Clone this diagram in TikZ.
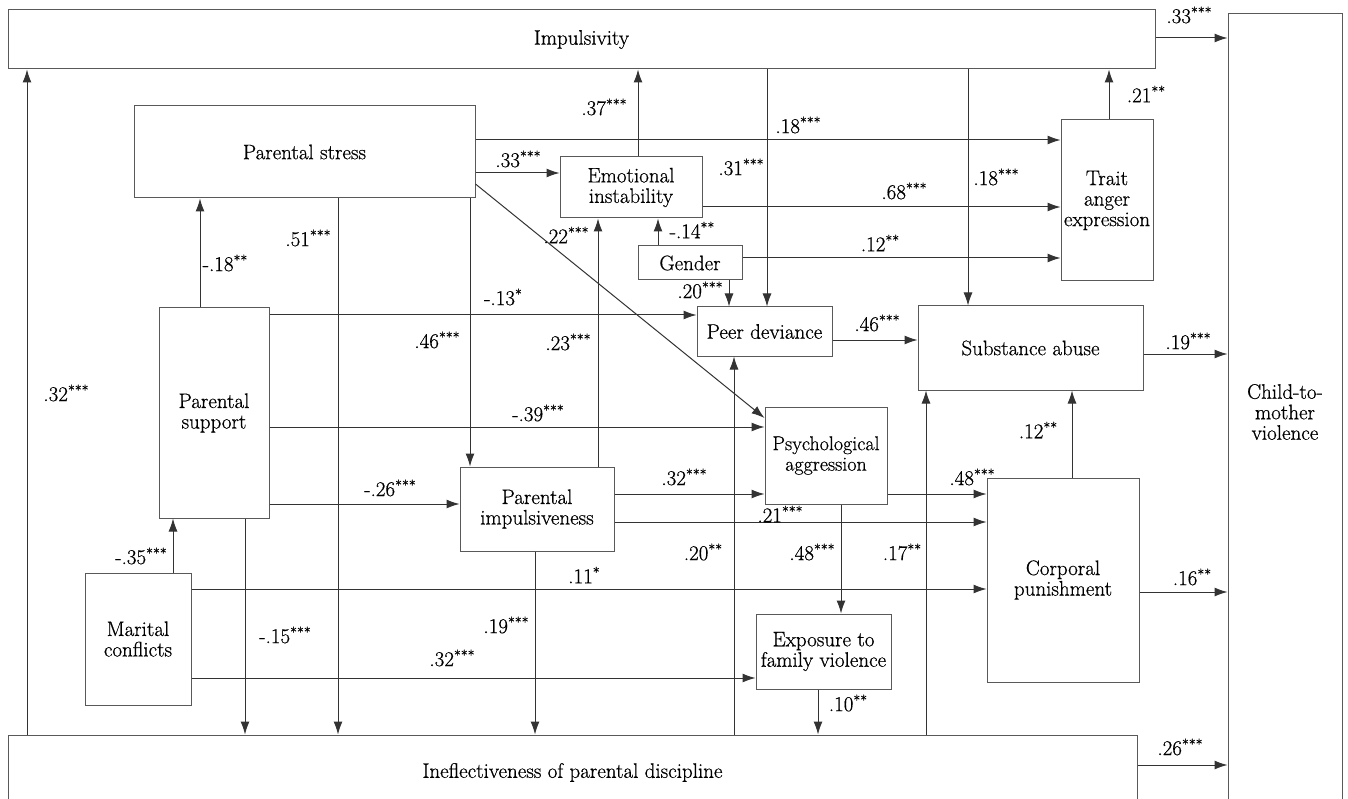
\documentclass[tikz,border=0pt]{standalone}
\usepackage{fontspec}
\setmainfont{Latin Modern Roman}[FakeBold=0.6]
\usetikzlibrary{arrows.meta}
\newcommand\stars[1]{\raisebox{6pt}{\fontsize{14}{14}\selectfont #1}}
\begin{document}
\begin{tikzpicture}[x=1pt,y=-1pt,
  box/.style={draw=black!65, line width=1pt, rectangle, inner sep=0pt, align=center,
    font=\fontsize{21}{20.5}\selectfont},
  arr/.style={draw=black!80, line width=1pt, -{Latex[length=13pt,width=9pt]}},
  lab/.style={font=\fontsize{21}{20}\selectfont, inner sep=0pt}]
\clip (0,0) rectangle (1348,799);
\fill[white] (0,0) rectangle (1348,799);
% boxes
\node[box, minimum width=1147pt, minimum height=59pt] (imp) at (581.5,39.5) {Impulsivity};
\node[box, minimum width=114pt, minimum height=796pt] (child) at (1285,412) {Child-to-\\mother\\violence};
\node[box, minimum width=1129pt, minimum height=75pt] (ineff) at (572.5,772.5) {Ineflectiveness of parental discipline};
\node[box, minimum width=341pt, minimum height=92pt] (stress) at (304.5,152) {Parental stress};
\node[box, minimum width=142pt, minimum height=61pt] (emo) at (631,187.5) {Emotional\\instability};
\node[box, minimum width=104pt, minimum height=34pt] (gen) at (690,263) {Gender};
\node[box, minimum width=92pt, minimum height=161pt] (trait) at (1107,200.5) {Trait\\anger\\expression};
\node[box, minimum width=135pt, minimum height=49pt] (peer) at (764.5,331.5) {Peer deviance};
\node[box, minimum width=225pt, minimum height=84pt] (subst) at (1030.5,348) {Substance abuse};
\node[box, minimum width=110pt, minimum height=210pt] (sup) at (214,413) {Parental\\support};
\node[box, minimum width=122pt, minimum height=97pt, font=\fontsize{20}{20.5}\selectfont] (pa) at (826,455.5) {Psychological\\aggression};
\node[box, minimum width=154pt, minimum height=84pt] (pi) at (537,509) {Parental\\impulsiveness};
\node[box, minimum width=152pt, minimum height=204pt] (corp) at (1063,580) {Corporal\\punishment};
\node[box, minimum width=106pt, minimum height=132pt] (mar) at (138,639) {Marital\\conflicts};
\node[box, minimum width=135pt, minimum height=75pt] (expo) at (823.5,651.5) {Exposure to\\family violence};
% connectors
\draw[arr] (imp.east |- 0,38) -- (child.west |- 0,38);
\draw[arr] (ineff.north -| 27,0) -- (imp.south -| 27,0);
\draw[arr] (stress.south -| 338,0) -- (ineff.north -| 338,0);
\draw[arr] (sup.north -| 200,0) -- (stress.south -| 200,0);
\draw[arr] (mar.north -| 173,0) -- (sup.south -| 173,0);
\draw[arr] (sup.south -| 245,0) -- (ineff.north -| 245,0);
\draw[arr] (mar.east |- 0,589) -- (corp.west |- 0,589);
\draw[arr] (mar.east |- 0,678) -- (expo.west |- 0,678);
\draw[arr] (sup.east |- 0,315) -- (peer.west |- 0,315);
\draw[arr] (sup.east |- 0,427) -- (pa.west |- 0,427);
\draw[arr] (sup.east |- 0,504) -- (pi.west |- 0,504);
\draw[arr] (stress.south -| 470,0) -- (pi.north -| 470,0);
\draw[arr] (stress.east |- 0,173) -- (emo.west |- 0,173);
\draw[arr] (stress.east |- 0,140) -- (trait.west |- 0,140);
\draw[arr] (stress.east |- 0,184) -- (pa.west |- 0,418);
\draw[arr] (emo.north -| 638,0) -- (imp.south -| 638,0);
\draw[arr] (emo.east |- 0,207) -- (trait.west |- 0,207);
\draw[arr] (gen.north -| 658,0) -- (emo.south -| 658,0);
\draw[arr] (gen.east |- 0,258) -- (trait.west |- 0,258);
\draw[arr] (gen.south -| 729,0) -- (peer.north -| 729,0);
\draw[arr] (imp.south -| 767,0) -- (peer.north -| 767,0);
\draw[arr] (imp.south -| 968,0) -- (subst.north -| 968,0);
\draw[arr] (trait.north -| 1109,0) -- (imp.south -| 1109,0);
\draw[arr] (pi.north -| 598,0) -- (emo.south -| 598,0);
\draw[arr] (peer.east |- 0,340) -- (subst.west |- 0,340);
\draw[arr] (subst.east |- 0,354) -- (child.west |- 0,354);
\draw[arr] (ineff.north -| 734,0) -- (peer.south -| 734,0);
\draw[arr] (ineff.north -| 926,0) -- (subst.south -| 926,0);
\draw[arr] (corp.north -| 1072,0) -- (subst.south -| 1072,0);
\draw[arr] (pi.east |- 0,494) -- (pa.west |- 0,494);
\draw[arr] (pi.east |- 0,522) -- (corp.west |- 0,522);
\draw[arr] (pa.east |- 0,494) -- (corp.west |- 0,494);
\draw[arr] (pa.south -| 841,0) -- (expo.north -| 841,0);
\draw[arr] (pi.south -| 535,0) -- (ineff.north -| 535,0);
\draw[arr] (expo.south -| 818,0) -- (ineff.north -| 818,0);
\draw[arr] (corp.east |- 0,592) -- (child.west |- 0,592);
\draw[arr] (ineff.east |- 0,765) -- (child.west |- 0,765);
% labels
\node[lab] (l1) at (1189,15) {.33\stars{***}};
\node[lab] (l2) at (66,393) {.32\stars{***}};
\node[lab] (l3) at (308,238) {.51\stars{***}};
\node[lab] (l4) at (225,263) {-.18\stars{**}};
\node[lab] (l5) at (141,556) {-.35\stars{***}};
\node[lab] (l6) at (285,635) {-.15\stars{***}};
\node[lab] (l7) at (584,575) {.11\stars{*}};
\node[lab] (l8) at (452,658) {.32\stars{***}};
\node[lab] (l9) at (503,297) {-.13\stars{*}};
\node[lab] (l10) at (538,413) {-.39\stars{***}};
\node[lab] (l11) at (390,488) {-.26\stars{***}};
\node[lab] (l12) at (437,340) {.46\stars{***}};
\node[lab] (l13) at (518,159) {.33\stars{***}};
\node[lab] (l14) at (798,125) {.18\stars{***}};
\node[lab] (l15) at (566,235) {.22\stars{***}};
\node[lab] (l16) at (604,107) {.37\stars{***}};
\node[lab] (l17) at (904,191) {.68\stars{***}};
\node[lab] (l18) at (692,230) {-.14\stars{**}};
\node[lab] (l19) at (880,243) {.12\stars{**}};
\node[lab] (l20) at (700,290) {.20\stars{***}};
\node[lab] (l21) at (741,167) {.31\stars{***}};
\node[lab] (l22) at (996,177) {.18\stars{***}};
\node[lab] (l23) at (1146,94) {.21\stars{**}};
\node[lab] (l24) at (568,342) {.23\stars{***}};
\node[lab] (l25) at (877,323) {.46\stars{***}};
\node[lab] (l26) at (1188,341) {.19\stars{***}};
\node[lab] (l27) at (703,552) {.20\stars{**}};
\node[lab] (l28) at (902,552) {.17\stars{**}};
\node[lab] (l29) at (1038,430) {.12\stars{**}};
\node[lab] (l30) at (684,477) {.32\stars{***}};
\node[lab] (l31) at (780,514) {.21\stars{***}};
\node[lab] (l32) at (972,477) {.48\stars{***}};
\node[lab] (l33) at (812,552) {.48\stars{***}};
\node[lab] (l34) at (506,625) {.19\stars{***}};
\node[lab] (l35) at (848,703) {.10\stars{**}};
\node[lab] (l36) at (1192,577) {.16\stars{**}};
\node[lab] (l37) at (1180,747) {.26\stars{***}};
\end{tikzpicture}
\end{document}
